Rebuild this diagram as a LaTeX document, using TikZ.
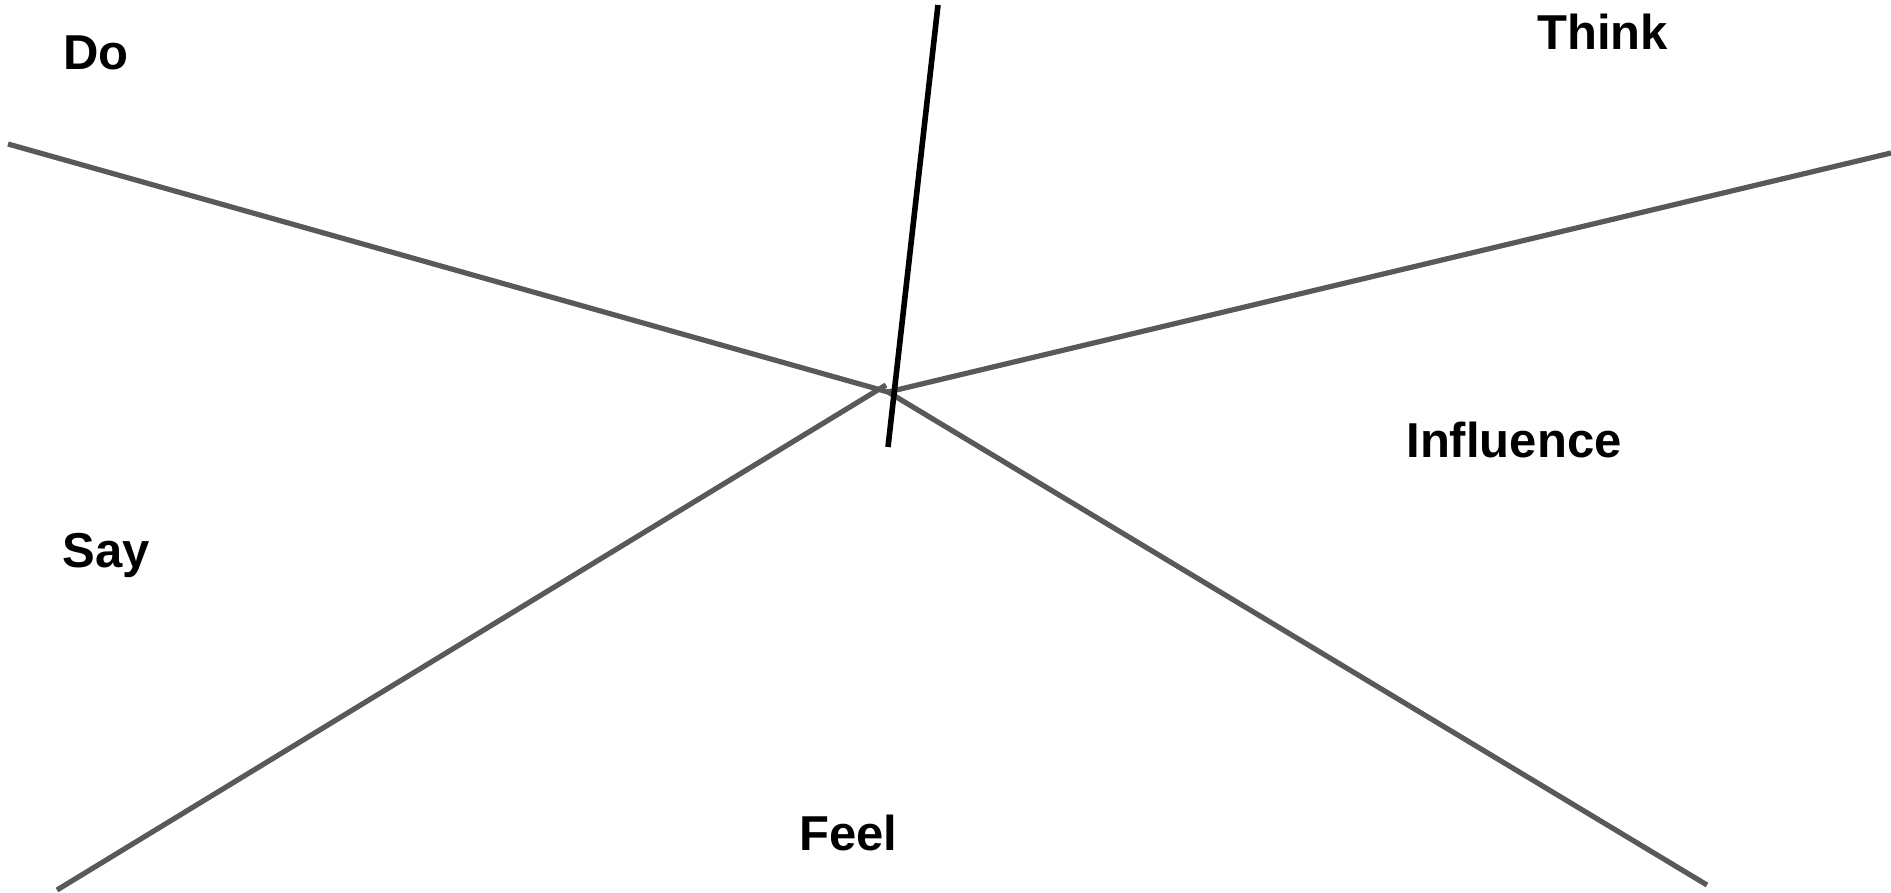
\documentclass[tikz,border=0pt]{standalone}
\usepackage{fontspec}
\setmainfont{Liberation Sans}
\begin{document}
\begin{tikzpicture}[x=0.5pt,y=-0.5pt,
  greyline/.style={draw=lineGrey,line width=2.6pt},
  blackline/.style={draw=black,line width=2.8pt},
  lbl/.style={anchor=base west,inner sep=0pt,font=\fontsize{24.5pt}{29pt}\selectfont\bfseries}]
\definecolor{lineGrey}{HTML}{595959}
\useasboundingbox (0,0) rectangle (1891,893);
\coordinate (C) at (888,392);
\coordinate (doEnd) at (8,144);
\coordinate (thinkEnd) at (1891,153);
\coordinate (sayEnd) at (57,890);
\coordinate (sayTip) at (886,385);
\coordinate (inflEnd) at (1707,885);
\coordinate (vTop) at (938,5);
\coordinate (vBot) at (888,447);
\draw[greyline] (doEnd) -- (C);
\draw[greyline] (C) -- (thinkEnd);
\draw[greyline] (sayEnd) -- (sayTip);
\draw[greyline] (C) -- (inflEnd);
\draw[blackline] (vTop) -- (vBot);
\node[lbl] (do) at (63,70) {Do};
\node[lbl] (think) at (1537,50) {Think};
\node[lbl] (influence) at (1406,457) {Influence};
\node[lbl] (say) at (62,567) {Say};
\node[lbl] (feel) at (799,850) {Feel};
\end{tikzpicture}
\end{document}
